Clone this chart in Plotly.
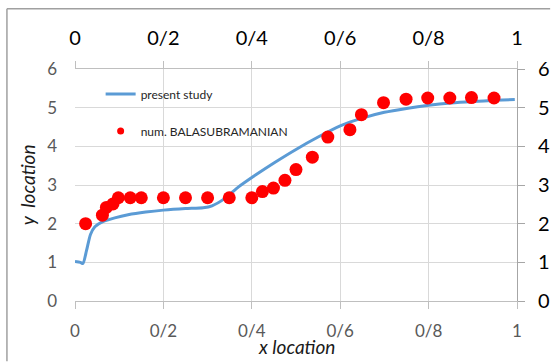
import plotly.graph_objects as go

# present study: velocity-profile curve
study_x = [0.0, 0.012, 0.018, 0.026, 0.035, 0.045, 0.063, 0.09, 0.12, 0.16, 0.2, 0.25,
           0.29, 0.31, 0.34, 0.37, 0.41, 0.45, 0.5, 0.55, 0.6, 0.65, 0.7, 0.75, 0.8,
           0.85, 0.9, 0.95, 0.995]
study_y = [1.02, 1.0, 0.97, 1.3, 1.72, 1.92, 2.05, 2.15, 2.23, 2.3, 2.35, 2.39,
           2.41, 2.46, 2.66, 2.95, 3.27, 3.57, 3.92, 4.24, 4.53, 4.73, 4.88, 4.98, 5.06,
           5.12, 5.16, 5.19, 5.21]

# numerical reference data (Balasubramanian)
ref_x = [0.024, 0.062, 0.071, 0.086, 0.098, 0.125, 0.15, 0.2, 0.25, 0.3, 0.349, 0.4,
         0.424, 0.449, 0.475, 0.5, 0.537, 0.572, 0.622, 0.648, 0.698, 0.749, 0.798,
         0.848, 0.897, 0.948]
ref_y = [2.0, 2.22, 2.42, 2.51, 2.67, 2.67, 2.67, 2.67, 2.67, 2.67, 2.67, 2.67,
         2.83, 2.92, 3.12, 3.4, 3.72, 4.24, 4.43, 4.82, 5.13, 5.22, 5.25,
         5.25, 5.26, 5.25]

x_ticks = [0, 0.2, 0.4, 0.6, 0.8, 1.0]
x_tick_text = ["0", "0/2", "0/4", "0/6", "0/8", "1"]
y_ticks = [0, 1, 2, 3, 4, 5, 6]

LINE_BLUE = "#5b9bd5"
DOT_RED = "#ff0000"
GRID = "#d9d9d9"
AXIS = "#bfbfbf"
FRAME = "#a0a0a0"
FONT = "Lato, 'Open Sans', sans-serif"

fig = go.Figure()

fig.add_trace(go.Scatter(
    x=study_x, y=study_y, mode="lines", name="present study",
    line=dict(color=LINE_BLUE, width=3, shape="spline", smoothing=0.6),
    legendgroup="a",
))
fig.add_trace(go.Scatter(
    x=ref_x, y=ref_y, mode="markers", name="num. BALASUBRAMANIAN",
    marker=dict(color=DOT_RED, size=13), showlegend=False,
))
# small legend key for the reference dots
fig.add_trace(go.Scatter(
    x=[None], y=[None], mode="markers", name="num. BALASUBRAMANIAN",
    marker=dict(color=DOT_RED, size=7), legendgroup="b",
))
# invisible trace that activates the secondary (top/right) axes
fig.add_trace(go.Scatter(x=[None], y=[None], xaxis="x2", yaxis="y2",
                         showlegend=False, hoverinfo="skip"))

fig.update_layout(
    width=552, height=363,
    margin=dict(l=75, r=35, t=69, b=62, autoexpand=False),
    paper_bgcolor="white", plot_bgcolor="white",
    font=dict(family=FONT),
    showlegend=True,
    legend=dict(
        x=0.058, y=0.955, xanchor="left", yanchor="top",
        bgcolor="rgba(0,0,0,0)", font=dict(size=12, color="#262626"),
        traceorder="grouped", tracegroupgap=18,
    ),
    xaxis=dict(
        range=[0, 1], tickvals=x_ticks, ticktext=x_tick_text,
        showgrid=True, gridcolor=GRID, gridwidth=1,
        showline=True, linecolor=AXIS, linewidth=1,
        ticks="outside", ticklen=7, tickcolor=AXIS,
        tickfont=dict(size=17, color="#595959"),
        ticklabelstandoff=8,
        zeroline=False, automargin=False,
    ),
    xaxis2=dict(
        range=[0, 1], tickvals=x_ticks, ticktext=x_tick_text,
        overlaying="x", side="top", anchor="y",
        showgrid=False, showline=True, linecolor=AXIS, linewidth=1,
        ticks="outside", ticklen=7, tickcolor=AXIS,
        tickfont=dict(size=20, color="#000000"),
        ticklabelstandoff=8,
        zeroline=False, automargin=False,
    ),
    yaxis=dict(
        range=[0, 6], tickvals=y_ticks,
        showgrid=True, gridcolor=GRID, gridwidth=1,
        showline=False, ticks="",
        tickfont=dict(size=17, color="#595959"),
        ticklabelstandoff=17,
        zeroline=False, automargin=False,
    ),
    yaxis2=dict(
        range=[0, 6], tickvals=y_ticks,
        overlaying="y", side="right", anchor="x",
        showgrid=False, showline=True, linecolor="#a6a6a6", linewidth=1,
        ticks="outside", ticklen=7, tickcolor="#a6a6a6",
        tickfont=dict(size=20, color="#000000"),
        ticklabelstandoff=9,
        zeroline=False, automargin=False,
    ),
    annotations=[
        dict(text="<i>x location</i>", xref="paper", yref="paper",
             x=0.5, y=-0.195, xanchor="center", yanchor="middle",
             showarrow=False, font=dict(size=19, color="#1a1a1a")),
        dict(text="<i>y  location</i>", xref="paper", yref="paper",
             x=-0.108, y=0.5, xanchor="center", yanchor="middle",
             textangle=-90, showarrow=False, font=dict(size=19, color="#1a1a1a")),
    ],
    shapes=[
        # chart frame: top and left edges
        dict(type="line", xref="paper", yref="paper",
             x0=-0.154, x1=1.075, y0=1.26, y1=1.26,
             line=dict(color=FRAME, width=1.5)),
        dict(type="line", xref="paper", yref="paper",
             x0=-0.154, x1=-0.154, y0=-0.26, y1=1.26,
             line=dict(color=FRAME, width=1.5)),
    ],
)

fig.write_html("out.html", config={"displayModeBar": False})
